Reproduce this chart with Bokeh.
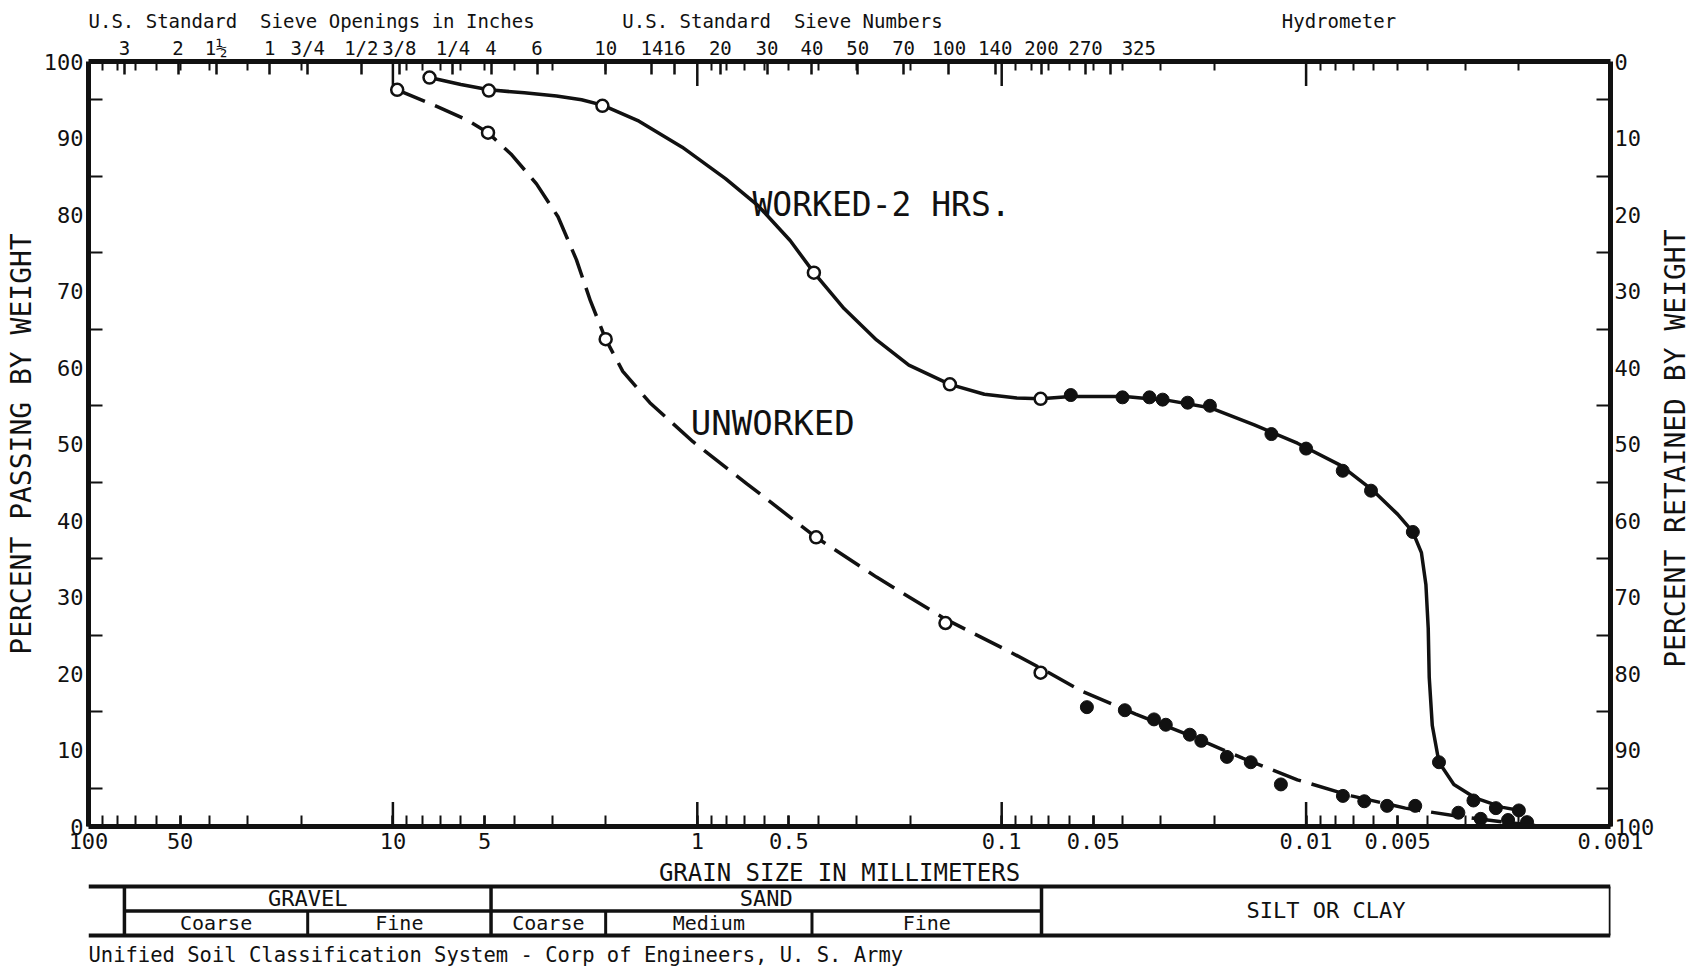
import math
from bokeh.plotting import figure
from bokeh.models import Range1d, FixedTicker, LinearAxis, LogAxis, Label
from bokeh.layouts import column, row
from bokeh.embed import file_html
from bokeh.resources import INLINE
from bokeh.core.properties import value

FONT = "DejaVu Sans Mono"
INK = "#111111"
NBSP = "\u00a0"

# ---------------- data ----------------
# Worked 2 hrs: sieve analysis (open circles) and hydrometer (filled)
worked_sieve_mm = [7.58, 4.84, 2.05, 0.414, 0.148, 0.0745]
worked_sieve_pct = [97.9, 96.2, 94.2, 72.4, 57.8, 55.9]
worked_hydro_mm = [0.0593, 0.0401, 0.0327, 0.0296, 0.0245, 0.0207, 0.0130, 0.0100,
                   0.00758, 0.00612, 0.00446, 0.00366, 0.00282, 0.00238, 0.00200]
worked_hydro_pct = [56.4, 56.1, 56.1, 55.8, 55.4, 55.0, 51.3, 49.4,
                    46.5, 43.9, 38.5, 8.4, 3.4, 2.4, 2.1]

# Unworked
unworked_sieve_mm = [9.68, 4.87, 2.00, 0.407, 0.153, 0.0745]
unworked_sieve_pct = [96.3, 90.7, 63.7, 37.8, 26.6, 20.1]
unworked_hydro_mm = [0.0525, 0.0394, 0.0316, 0.0289, 0.0241, 0.0221, 0.0182, 0.0152, 0.0121,
                     0.00757, 0.00644, 0.00542, 0.00438, 0.00316, 0.00267, 0.00217, 0.00188]
unworked_hydro_pct = [15.6, 15.2, 14.0, 13.3, 12.0, 11.2, 9.1, 8.4, 5.5,
                      4.0, 3.3, 2.7, 2.7, 1.8, 1.0, 0.85, 0.57]

# Hand-drawn curves
worked_curve_mm = [7.58, 5.98, 4.84, 3.70, 2.90, 2.40, 2.05, 1.554, 1.121, 0.808, 0.633, 0.4955,
                   0.414, 0.3295, 0.2578, 0.2018, 0.148, 0.114, 0.0892, 0.0745, 0.0593,
                   0.0394, 0.0284, 0.0205, 0.0148, 0.01068, 0.0077, 0.00602, 0.0050,
                   0.00446, 0.00418, 0.00404, 0.00397, 0.00394, 0.00385, 0.00366,
                   0.00327, 0.00277, 0.00226, 0.00192]
worked_curve_pct = [97.9, 97.0, 96.3, 95.9, 95.5, 95.0, 94.3, 92.2, 88.8, 84.7, 81.2, 76.6,
                    72.4, 67.7, 63.6, 60.3, 57.8, 56.5, 56.0, 55.9, 56.2,
                    56.2, 55.7, 54.7, 52.5, 50.1, 47.2, 43.9, 40.8,
                    38.5, 35.8, 31.6, 25.9, 19.5, 13.2, 8.4,
                    5.5, 3.7, 2.5, 2.0]
unworked_curve_mm = [9.68, 7.33, 5.74, 4.87, 4.07, 3.375, 2.868, 2.496, 2.244, 2.00, 1.757,
                     1.432, 1.033, 0.687, 0.407, 0.2578, 0.153, 0.0968, 0.0745, 0.0546,
                     0.0363, 0.0241, 0.0161, 0.01068, 0.0071, 0.00472, 0.00313, 0.00226,
                     0.00177]
unworked_curve_pct = [96.3, 94.3, 92.4, 90.7, 87.8, 84.0, 79.7, 74.1, 68.7, 63.7, 59.5,
                      55.4, 50.3, 44.8, 37.8, 32.6, 27.1, 23.1, 20.7, 17.7,
                      14.7, 11.9, 8.9, 6.1, 4.0, 2.4, 1.3, 0.6,
                      0.14]

# Axis ticks
mm_ticks = [100, 50, 10, 5, 1, 0.5, 0.1, 0.05, 0.01, 0.005, 0.001]
mm_labels = ["100", "50", "10", "5", "1", "0.5", "0.1", "0.05", "0.01", "0.005", "0.001"]
mm_decades = [10, 1, 0.1, 0.01]
mm_minor_ticks = [m * d for d in (10, 1, 0.1, 0.01, 0.001) for m in (2, 3, 4, 5, 6, 7, 8, 9)]

sieve_mm = [76.2, 50.8, 38.1, 25.4, 19.05, 12.7, 9.525, 6.35, 4.76, 3.36, 2.0, 1.41, 1.19,
            0.84, 0.59, 0.42, 0.297, 0.21, 0.149, 0.105, 0.074, 0.053, 0.044]
sieve_labels = ["3", "2", "1½", "1", "3/4", "1/2", "3/8", "1/4", "4", "6", "10", "14", "16",
                "20", "30", "40", "50", "70", "100", "140", "200", "270", "325"]

top_titles = ["U.S. Standard  Sieve Openings in Inches", "U.S. Standard  Sieve Numbers",
              "Hydrometer"]
top_title_mm = [100, 0.525, 0.0078]
top_title_align = ["left", "center", "center"]

pct_ticks = [0, 10, 20, 30, 40, 50, 60, 70, 80, 90, 100]
pct_minor = [5, 15, 25, 35, 45, 55, 65, 75, 85, 95]

# Unified Soil Classification bands
usc_major_bounds = [76.2, 4.76, 0.074, 0.001]
usc_minor_bounds = [19.05, 2.0, 0.42]
usc_major_names = ["GRAVEL", "SAND"]
usc_minor_edges = [76.2, 19.05, 4.76, 2.0, 0.42, 0.074]
usc_minor_names = ["Coarse", "Fine", "Coarse", "Medium", "Fine"]

X_RANGE = Range1d(100, 0.001)
COMMON = dict(output_backend="svg", toolbar_location=None, background_fill_color="white",
              border_fill_color="white", outline_line_color=None,
              x_axis_location=None, y_axis_location=None)

# ---------------- header strip (titles) ----------------
h = figure(x_axis_type="log", x_range=X_RANGE, y_range=Range1d(0, 33),
           frame_width=1522, frame_height=33, min_border_left=88, min_border_right=81,
           min_border_top=0, min_border_bottom=0, **COMMON)
h.grid.visible = False
h.text(x=top_title_mm, y=[13] * 3,
       text=[s.replace("  ", " " + NBSP) for s in top_titles], text_font=value(FONT),
       text_font_size="19px", text_align=top_title_align, text_baseline="middle",
       text_color=INK)

# ---------------- main chart ----------------
p = figure(x_axis_type="log", x_range=X_RANGE, y_range=Range1d(0, 100),
           frame_width=1522, frame_height=765,
           min_border_left=88, min_border_right=46, min_border_top=26, min_border_bottom=33,
           **COMMON)
p.grid.visible = False


def style_axis(ax, size):
    ax.axis_line_width = 5
    ax.axis_line_color = INK
    ax.major_tick_line_color = INK
    ax.minor_tick_line_color = INK
    ax.major_tick_line_width = 2.5
    ax.minor_tick_line_width = 2
    ax.major_tick_out = 0
    ax.minor_tick_out = 0
    ax.major_label_text_font = FONT
    ax.major_label_text_font_size = size
    ax.major_label_text_color = INK
    ax.axis_label_text_font = FONT
    ax.axis_label_text_font_style = "normal"
    ax.axis_label_text_color = INK
    ax.axis_label_text_font_size = "28px"


bottom = LogAxis(ticker=FixedTicker(ticks=mm_ticks, minor_ticks=mm_minor_ticks),
                 major_label_overrides=dict(zip(mm_ticks, mm_labels)))
style_axis(bottom, "22px")
bottom.major_tick_in = 11
bottom.minor_tick_in = 11
bottom.major_label_standoff = 6
p.add_layout(bottom, "below")

# top: sieve sizes; the crowded "325" is lettered a little to the right of its tick
top_overrides = dict(zip(sieve_mm, sieve_labels))
top_overrides[0.044] = NBSP * 5 + "325"
top = LogAxis(ticker=FixedTicker(ticks=sieve_mm, minor_ticks=mm_minor_ticks),
              major_label_overrides=top_overrides)
style_axis(top, "19px")
top.major_tick_in = 13
top.minor_tick_in = 9
top.major_label_standoff = 3
p.add_layout(top, "above")

left = LinearAxis(ticker=FixedTicker(ticks=pct_ticks, minor_ticks=pct_minor),
                  axis_label="PERCENT PASSING BY WEIGHT")
style_axis(left, "22px")
left.major_tick_in = 0
left.minor_tick_in = 14
left.major_label_standoff = 5
left.axis_label_standoff = 3
p.add_layout(left, "left")

right = LinearAxis(ticker=FixedTicker(ticks=pct_ticks, minor_ticks=pct_minor),
                   major_label_overrides={t: str(100 - t) for t in pct_ticks})
style_axis(right, "22px")
right.major_tick_in = 0
right.minor_tick_in = 14
right.major_label_standoff = 4
p.add_layout(right, "right")

# taller ticks at each decade on top and bottom edges
p.segment(x0=mm_decades, y0=[0] * 4, x1=mm_decades, y1=[3.2] * 4, line_color=INK, line_width=2.5)
p.segment(x0=mm_decades, y0=[100] * 4, x1=mm_decades, y1=[96.8] * 4, line_color=INK, line_width=2.5)

# curves
p.line(worked_curve_mm, worked_curve_pct, line_color=INK, line_width=3.5, line_join="round")
p.line(unworked_curve_mm, unworked_curve_pct, line_color=INK, line_width=3.5, line_dash="30 11")

# points
p.scatter(worked_sieve_mm, worked_sieve_pct, marker="circle", size=12, fill_color="white",
          line_color=INK, line_width=2.5)
p.scatter(unworked_sieve_mm, unworked_sieve_pct, marker="circle", size=12, fill_color="white",
          line_color=INK, line_width=2.5)
p.scatter(worked_hydro_mm, worked_hydro_pct, marker="circle", size=13, fill_color=INK,
          line_color=INK)
p.scatter(unworked_hydro_mm, unworked_hydro_pct, marker="circle", size=13, fill_color=INK,
          line_color=INK)


def lab(fig, x, y, text, size, align="center", baseline="middle"):
    fig.add_layout(Label(x=x, y=y, text=text, text_font=FONT, text_font_size=size,
                         text_color=INK, text_align=align, text_baseline=baseline))


lab(p, 0.659, 81.3, "WORKED-2 HRS.", "33px", align="left")
lab(p, 1.05, 52.8, "UNWORKED", "34px", align="left")

# ---------------- right-hand axis title strip ----------------
r = figure(x_range=Range1d(0, 35), y_range=Range1d(0, 100), frame_width=35, frame_height=765,
           min_border_left=0, min_border_right=0, min_border_top=26, min_border_bottom=33,
           **COMMON)
r.grid.visible = False
r.text(x=[18], y=[49.4], text=["PERCENT RETAINED BY WEIGHT"], angle=math.pi / 2,
       text_font=value(FONT), text_font_size="28px", text_align="center",
       text_baseline="middle", text_color=INK)

# ---------------- classification table ----------------
t = figure(x_axis_type="log", x_range=X_RANGE, y_range=Range1d(-1.388, 3.102),
           frame_width=1522, frame_height=110,
           min_border_left=88, min_border_right=81, min_border_top=0, min_border_bottom=0,
           **COMMON)
t.grid.visible = False

# outer horizontal lines
t.segment(x0=[100, 100], y0=[2, 0], x1=[0.001, 0.001], y1=[2, 0], line_color=INK, line_width=4)
# row split under GRAVEL/SAND
t.segment(x0=[usc_major_bounds[0]], y0=[1], x1=[usc_major_bounds[2]], y1=[1],
          line_color=INK, line_width=3.5)
# full-height dividers
t.segment(x0=usc_major_bounds, y0=[0] * 4, x1=usc_major_bounds, y1=[2] * 4,
          line_color=INK, line_width=3.5)
# lower-row dividers
t.segment(x0=usc_minor_bounds, y0=[0] * 3, x1=usc_minor_bounds, y1=[1] * 3,
          line_color=INK, line_width=3)

major_x = [math.sqrt(usc_major_bounds[i] * usc_major_bounds[i + 1]) for i in range(2)]
minor_x = [math.sqrt(usc_minor_edges[i] * usc_minor_edges[i + 1]) for i in range(5)]
t.text(x=major_x, y=[1.5] * 2, text=usc_major_names, text_font=value(FONT),
       text_font_size="22px", text_align="center", text_baseline="middle", text_color=INK)
t.text(x=minor_x, y=[0.5] * 5, text=usc_minor_names, text_font=value(FONT),
       text_font_size="20px", text_align="center", text_baseline="middle", text_color=INK)
silt_x = math.sqrt(usc_major_bounds[2] * usc_major_bounds[3])
t.text(x=[silt_x], y=[1.0], text=["SILT OR CLAY"], text_font=value(FONT),
       text_font_size="22px", text_align="center", text_baseline="middle", text_color=INK)

t.text(x=[0.341], y=[2.56], text=["GRAIN SIZE IN MILLIMETERS"], text_font=value(FONT),
       text_font_size="24px", text_align="center", text_baseline="middle", text_color=INK)
t.text(x=[100], y=[-0.816],
       text=["Unified Soil Classification System - Corp of Engineers, U. S. Army"],
       text_font=value(FONT), text_font_size="20.5px", text_align="left",
       text_baseline="middle", text_color=INK)

layout = column(h, row(p, r, spacing=0), t, spacing=0)
open("out.html", "w").write(file_html(layout, INLINE))
